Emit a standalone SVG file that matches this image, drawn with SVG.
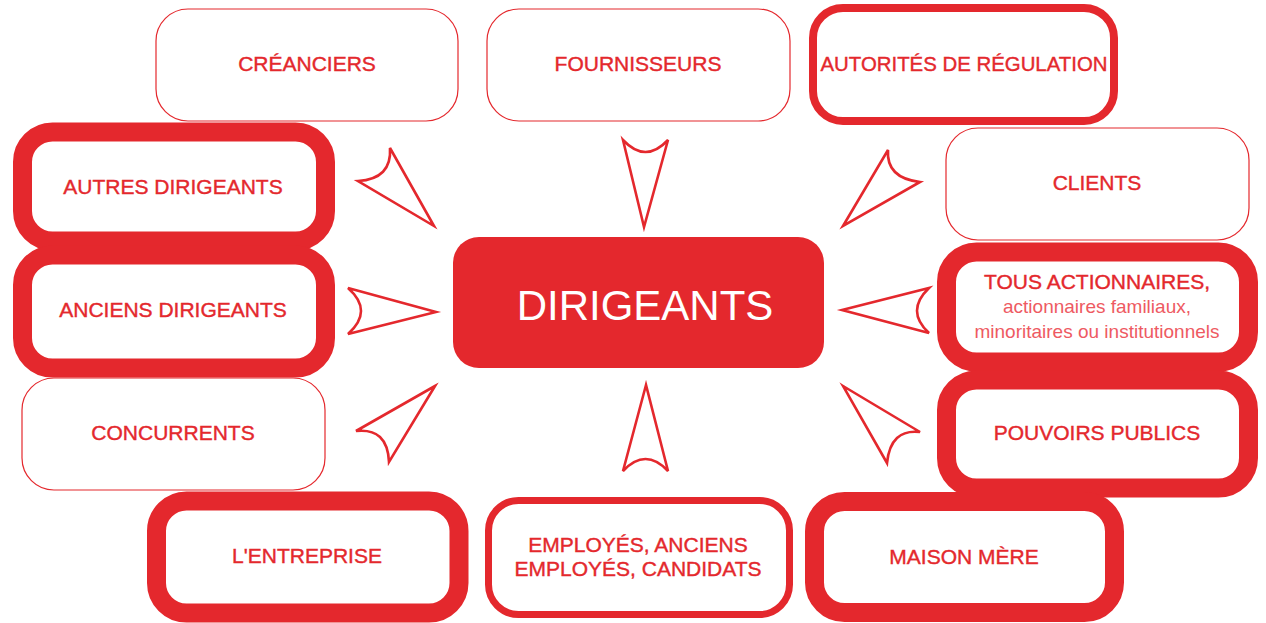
<svg xmlns="http://www.w3.org/2000/svg" width="1266" height="623" viewBox="0 0 1266 623">
<style>
.bg{fill:#fff}
.thin{fill:#fff;stroke:#e4282d;stroke-width:1.2}
.med{fill:#fff;stroke:#e4282d;stroke-width:8}
.mid{fill:#fff;stroke:#e4282d;stroke-width:7}
.thick{fill:#fff;stroke:#e4282d;stroke-width:19}
.lbl{font-family:"Liberation Sans",Arial,sans-serif;font-size:21px;fill:#e4282d;stroke:#e4282d;stroke-width:0.4;text-anchor:middle}
.sub{font-family:"Liberation Sans",Arial,sans-serif;font-size:19px;fill:#ee5a62;text-anchor:middle}
.arr{fill:#fff;stroke:#e4282d;stroke-width:2.6;stroke-linejoin:miter}
</style>
<rect class="bg" x="0" y="0" width="1266" height="623"/>
<g id="connectors">
<path class="arr" d="M434,226 L390,148 Q392,179 358,181 Z"/>
<path class="arr" d="M644,227 L623,140 Q645.5,164 668,140 Z"/>
<path class="arr" d="M843,226 L888,150 Q886,178 920,182 Z"/>
<path class="arr" d="M436,312 L348,288 Q374,311 348,334 Z"/>
<path class="arr" d="M842,310 L929,288 Q905,311 929,333 Z"/>
<path class="arr" d="M435,386 L356,431 Q387.5,427.5 389,462 Z"/>
<path class="arr" d="M646,385 L623,471 Q645.5,447 668,471 Z"/>
<path class="arr" d="M843,386 L920,432 Q890.5,428.5 887,463 Z"/>
</g>
<g id="creanciers"><rect class="thin" x="156" y="9" width="302" height="112" rx="32"/><text class="lbl" x="307" y="71">CRÉANCIERS</text></g>
<g id="fournisseurs"><rect class="thin" x="487" y="9" width="303" height="112" rx="32"/><text class="lbl" x="638" y="71">FOURNISSEURS</text></g>
<g id="autorites"><rect class="med" x="813" y="8" width="301" height="113" rx="30"/><text class="lbl" x="964" y="71" textLength="287" lengthAdjust="spacingAndGlyphs">AUTORITÉS DE RÉGULATION</text></g>
<g id="clients"><rect class="thin" x="946" y="128" width="303" height="112" rx="32"/><text class="lbl" x="1097" y="190">CLIENTS</text></g>
<g id="concurrents"><rect class="thin" x="22" y="378" width="303" height="112" rx="32"/><text class="lbl" x="173" y="440">CONCURRENTS</text></g>
<g id="autres"><rect class="thick" x="22.5" y="132" width="303" height="109" rx="30"/><text class="lbl" x="173" y="194">AUTRES DIRIGEANTS</text></g>
<g id="anciens"><rect class="thick" x="22.5" y="255" width="303" height="113" rx="30"/><text class="lbl" x="173" y="317">ANCIENS DIRIGEANTS</text></g>
<g id="actionnaires"><rect class="thick" x="946.5" y="252" width="302" height="110" rx="30"/><text class="lbl" x="1097" y="289">TOUS ACTIONNAIRES,</text><text class="sub" x="1097" y="313">actionnaires familiaux,</text><text class="sub" x="1097" y="338">minoritaires ou institutionnels</text></g>
<g id="pouvoirs"><rect class="thick" x="946.5" y="380" width="302" height="108" rx="30"/><text class="lbl" x="1097" y="440">POUVOIRS PUBLICS</text></g>
<g id="entreprise"><rect class="thick" x="156.5" y="501" width="302.5" height="112" rx="30"/><text class="lbl" x="307" y="563">L'ENTREPRISE</text></g>
<g id="employes"><rect class="mid" x="488.5" y="500.5" width="301" height="114" rx="30"/><text class="lbl" x="638" y="552">EMPLOYÉS, ANCIENS</text><text class="lbl" x="638" y="576">EMPLOYÉS, CANDIDATS</text></g>
<g id="maison"><rect class="thick" x="814.5" y="501.5" width="300" height="111" rx="30"/><text class="lbl" x="964" y="564">MAISON MÈRE</text></g>
<g id="dirigeants"><rect x="453" y="237" width="371" height="131" rx="26" fill="#e4282d"/><text x="645" y="320" font-family="'Liberation Sans',Arial,sans-serif" font-size="42" fill="#fff" text-anchor="middle">DIRIGEANTS</text></g>
</svg>
